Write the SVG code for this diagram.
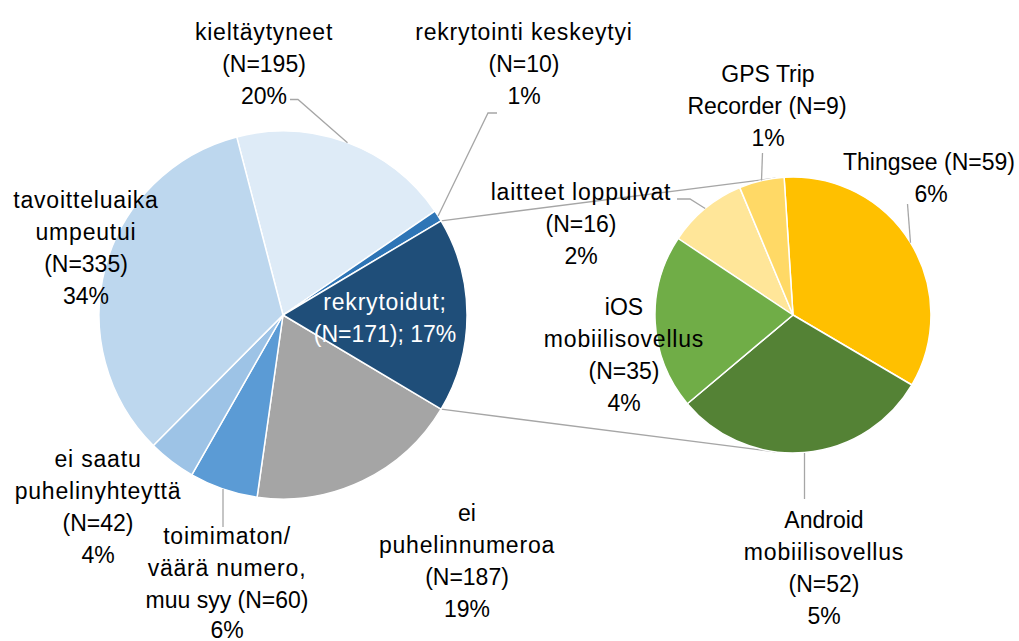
<svg xmlns="http://www.w3.org/2000/svg" width="1019" height="641" viewBox="0 0 1019 641">
<style>
text{font-family:"Liberation Sans",Arial,sans-serif;font-size:23px;fill:#000;text-anchor:middle}
.w{letter-spacing:0.8px}
.s{stroke:#fff;stroke-width:1.5;stroke-linejoin:round}
.ln{fill:none;stroke:#A6A6A6;stroke-width:1.3}
.wt{fill:#fff}
</style>
<rect width="1019" height="641" fill="#fff"/>
<g id="series-lines" class="ln">
<path d="M441.1,220.8 L775.5,178.1"/>
<path d="M441.1,409.2 L775.5,451.9"/>
</g>
<g id="kieltaytyneet">
<path class="s" fill="#DEEBF7" d="M283,315 L236.7,136.9 A184,184 0 0 1 434.9,211.1 Z"/>
<text class="w" x="264" y="40">kieltäytyneet</text>
<text x="264" y="72">(N=195)</text>
<text x="264" y="104">20%</text>
</g>
<g id="rekrytointi-keskeytyi">
<path class="s" fill="#2E75B6" d="M283,315 L434.9,211.1 A184,184 0 0 1 441.1,220.8 Z"/>
<text class="w" x="524" y="40">rekrytointi keskeytyi</text>
<text x="524" y="72">(N=10)</text>
<text x="524" y="104">1%</text>
</g>
<g id="ei-puhelinnumeroa">
<path class="s" fill="#A5A5A5" d="M283,315 L441.1,409.2 A184,184 0 0 1 257.1,497.2 Z"/>
<text x="467" y="520.5">ei</text>
<text class="w" x="467" y="552.5">puhelinnumeroa</text>
<text x="467" y="584.5">(N=187)</text>
<text x="467" y="616.5">19%</text>
</g>
<g id="toimimaton">
<path class="s" fill="#5B9BD5" d="M283,315 L257.1,497.2 A184,184 0 0 1 191.8,474.8 Z"/>
<text class="w" x="227" y="544">toimimaton/</text>
<text class="w" x="227" y="576">väärä numero,</text>
<text x="227" y="608">muu syy (N=60)</text>
<text x="227" y="638">6%</text>
</g>
<g id="ei-saatu">
<path class="s" fill="#9DC3E6" d="M283,315 L191.8,474.8 A184,184 0 0 1 153.3,445.5 Z"/>
<text class="w" x="98" y="466.5">ei saatu</text>
<text class="w" x="98" y="498.5">puhelinyhteyttä</text>
<text x="98" y="530.5">(N=42)</text>
<text x="98" y="562.5">4%</text>
</g>
<g id="tavoitteluaika">
<path class="s" fill="#BDD7EE" d="M283,315 L153.3,445.5 A184,184 0 0 1 236.7,136.9 Z"/>
<text class="w" x="86" y="208">tavoitteluaika</text>
<text class="w" x="86" y="240">umpeutui</text>
<text x="86" y="272">(N=335)</text>
<text x="86" y="304">34%</text>
</g>
<g id="rekrytoidut">
<path class="s" fill="#1F4E79" d="M283,315 L441.1,220.8 A184,184 0 0 1 441.1,409.2 Z"/>
<text class="wt w" x="385" y="310">rekrytoidut;</text>
<text class="wt" x="385" y="342">(N=171); 17%</text>
</g>
<g id="thingsee">
<path class="s" fill="#FFC000" d="M793,315 L784.1,177.3 A138,138 0 0 1 911.9,385.0 Z"/>
<text x="929" y="170">Thingsee (N=59)</text>
<text x="931" y="202">6%</text>
</g>
<g id="android">
<path class="s" fill="#548235" d="M793,315 L911.9,385.0 A138,138 0 0 1 687.3,403.7 Z"/>
<text x="824" y="528">Android</text>
<text class="w" x="824" y="560">mobiilisovellus</text>
<text x="824" y="592">(N=52)</text>
<text x="824" y="624">5%</text>
</g>
<g id="laitteet-loppuivat">
<path class="s" fill="#FFE699" d="M793,315 L678.1,238.5 A138,138 0 0 1 739.8,187.6 Z"/>
<text class="w" x="581" y="200">laitteet loppuivat</text>
<text x="581" y="232">(N=16)</text>
<text x="581" y="264">2%</text>
</g>
<g id="gps-trip-recorder">
<path class="s" fill="#FFD966" d="M793,315 L739.8,187.6 A138,138 0 0 1 784.1,177.3 Z"/>
<text x="768" y="82">GPS Trip</text>
<text x="767" y="114">Recorder (N=9)</text>
<text x="768" y="146">1%</text>
</g>
<g id="ios">
<path class="s" fill="#70AD47" d="M793,315 L687.3,403.7 A138,138 0 0 1 678.1,238.5 Z"/>
<text x="624" y="315">iOS</text>
<text class="w" x="624" y="347">mobiilisovellus</text>
<text x="624" y="379">(N=35)</text>
<text x="624" y="411">4%</text>
</g>
<g id="leader-lines" class="ln">
<path d="M290,99.5 H298 L347.5,142.7"/>
<path d="M497,113 H488 L438.1,216"/>
<path d="M762.5,153 L761.5,180.6"/>
<path d="M907.5,204 L910.5,242.7"/>
<path d="M677,199 H690 L705.2,208.5"/>
<path d="M804.5,453 V499"/>
<path d="M223,489 V527"/>
</g>
</svg>
